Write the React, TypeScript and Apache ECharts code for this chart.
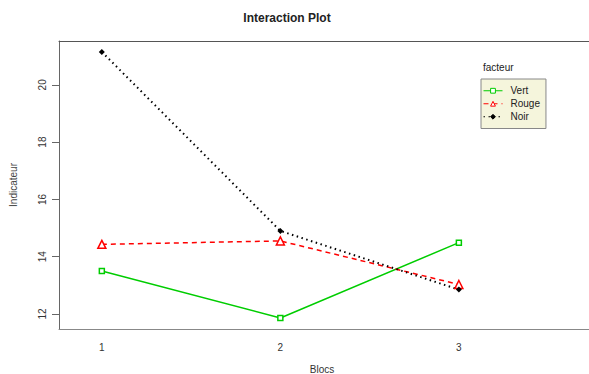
import React, { useEffect, useRef } from "react";
import * as echarts from "echarts";

const blocs = [1, 2, 3];
const yTicks = [12, 14, 16, 18, 20];
const vert = [13.5, 11.86, 14.49];
const rouge = [14.43, 14.55, 13.03];
const noir = [21.15, 14.9, 12.85];
const seriesNames = ["Vert", "Rouge", "Noir"];

const FONT = "Liberation Sans, Arial, sans-serif";

export default function App() {
  const ref = useRef<HTMLDivElement>(null);
  useEffect(() => {
    if (!ref.current) return;
    const chart = echarts.init(ref.current, null, { renderer: "svg" });
    const pair = (vals: number[]) => blocs.map((b, i) => [b, vals[i]]);
    chart.setOption({
      animation: false,
      backgroundColor: "#ffffff",
      textStyle: { fontFamily: FONT },
      grid: { left: 56, top: 41, bottom: 45, right: 0, containLabel: false, show: false },
      graphic: [
        { type: "text", x: 287, y: 18, style: { text: "Interaction Plot", font: "bold 12px " + FONT, fill: "#222", align: "center", verticalAlign: "middle" } },
        { type: "text", x: 322, y: 369, style: { text: "Blocs", font: "10px " + FONT, fill: "#333", align: "center", verticalAlign: "middle" } },
        { type: "text", x: 483, y: 67, style: { text: "facteur", font: "10px " + FONT, fill: "#222", align: "left", verticalAlign: "middle" } },
      ],
      legend: {
        orient: "vertical",
        left: 481,
        top: 79,
        data: seriesNames,
        backgroundColor: "#f5f5dc",
        borderColor: "#888",
        borderWidth: 1,
        borderRadius: 0,
        padding: [6, 6, 6, 2],
        itemGap: 1.5,
        itemWidth: 19,
        itemHeight: 6,
        lineStyle: { width: 1 },
        itemStyle: { borderWidth: 1 },
        textStyle: { fontSize: 10, color: "#222", fontFamily: FONT, padding: [0, 0, 0, 3], lineHeight: 11.5 },
      },
      xAxis: [
        {
          type: "value",
          min: 0.76,
          max: 3.729,
          position: "bottom",
          splitLine: { show: false },
          axisLine: { show: true, onZero: false, lineStyle: { color: "#888", width: 1 } },
          axisTick: { show: false },
          axisLabel: { customValues: blocs, fontSize: 10, color: "#333", margin: 13 },
        },
        {
          type: "value",
          min: 0.76,
          max: 3.729,
          position: "top",
          splitLine: { show: false },
          axisLine: { show: true, onZero: false, lineStyle: { color: "#555", width: 1 } },
          axisTick: { show: false },
          axisLabel: { show: false },
        },
      ],
      yAxis: {
        type: "value",
        min: 11.475,
        max: 21.53,
        splitLine: { show: false },
        axisLine: { show: true, onZero: false, lineStyle: { color: "#666", width: 1 } },
        axisTick: { show: true, customValues: yTicks, length: 7, lineStyle: { color: "#666" } },
        axisLabel: { customValues: yTicks, fontSize: 10, color: "#333", rotate: 90, margin: 12 },
        name: "Indicateur",
        nameLocation: "middle",
        nameRotate: 90,
        nameGap: 41,
        nameTextStyle: { fontSize: 10, color: "#444" },
      },
      series: [
        {
          name: "Vert", type: "line", data: pair(vert), color: "#00cd00",
          lineStyle: { color: "#00cd00", width: 1.5, type: "solid" },
          symbol: "rect", symbolSize: 5, showAllSymbol: true,
          itemStyle: { color: "#ffffff", borderColor: "#00cd00", borderWidth: 1.5 },
        },
        {
          name: "Rouge", type: "line", data: pair(rouge), color: "#ff0000",
          lineStyle: { color: "#ff0000", width: 1.5, type: [5, 4] },
          symbol: "triangle", symbolSize: 8,
          itemStyle: { color: "#ffffff", borderColor: "#ff0000", borderWidth: 1.5 },
        },
        {
          name: "Noir", type: "line", data: pair(noir), color: "#000000",
          lineStyle: { color: "#000000", width: 2, type: [1.5, 3.5] },
          symbol: "diamond", symbolSize: 6,
          itemStyle: { color: "#000000", borderColor: "#000000", borderWidth: 0 },
        },
      ],
    });
    return () => chart.dispose();
  }, []);
  return <div ref={ref} style={{ width: 589, height: 374, position: "fixed", left: 0, top: 0 }} />;
}
